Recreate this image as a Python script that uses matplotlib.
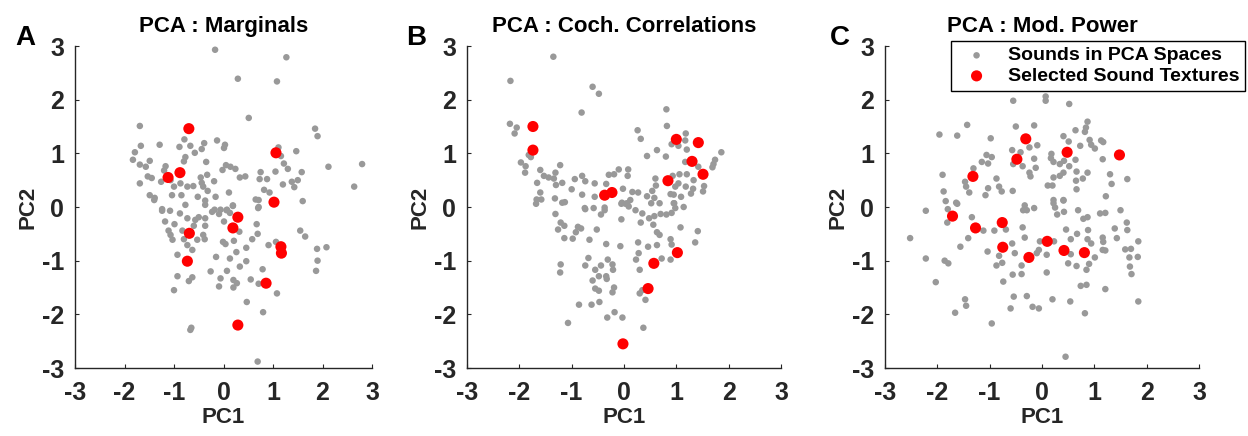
import matplotlib
matplotlib.use("Agg")
import matplotlib.pyplot as plt
import numpy as np

plt.rcParams['font.family'] = ['Liberation Sans', 'DejaVu Sans']
plt.rcParams['font.weight'] = 'bold'
plt.rcParams['axes.unicode_minus'] = False

# ---- data (PC1, PC2) ----
marg_sounds = [
    (-0.17, 2.93), (1.27, 2.79), (0.29, 2.39), (1.08, 2.34), (0.51, 1.66), (-1.69, 1.51),
    (1.85, 1.46), (1.90, 1.32), (-0.79, 1.26), (-1.67, 1.14), (-1.29, 1.16), (-0.89, 1.12),
    (-0.67, 1.14), (-0.39, 1.19), (-0.13, 1.24), (0.03, 1.16), (0.01, 1.10), (-0.58, 1.01),
    (-0.44, 1.08), (-1.79, 1.02), (1.11, 1.11), (1.16, 0.95), (1.47, 1.04), (-1.83, 0.88),
    (-1.49, 0.86), (-1.69, 0.79), (-1.57, 0.75), (-0.77, 0.93), (-0.80, 0.85), (-0.35, 0.84),
    (-1.17, 0.76), (-1.20, 0.68), (1.22, 0.81), (1.30, 0.71), (0.05, 0.78), (0.14, 0.75),
    (0.24, 0.71), (-0.02, 0.69), (1.58, 0.65), (2.12, 0.75), (2.80, 0.80), (0.75, 0.65),
    (1.05, 0.66), (-1.53, 0.57), (-1.45, 0.54), (-1.69, 0.44), (-1.26, 0.47), (-1.07, 0.50),
    (-1.00, 0.38), (-0.87, 0.44), (-0.73, 0.38), (-0.61, 0.39), (-0.46, 0.55), (-0.33, 0.60),
    (-0.44, 0.45), (-0.41, 0.38), (-0.32, 0.30), (-0.19, 0.48), (0.33, 0.55), (0.44, 0.57),
    (0.73, 0.52), (0.88, 0.52), (0.82, 0.32), (1.20, 0.42), (1.38, 0.47), (1.50, 0.50),
    (1.43, 0.37), (0.93, 0.27), (2.64, 0.38), (-1.49, 0.22), (-1.39, 0.17), (-1.04, 0.22),
    (-0.85, 0.22), (-0.52, 0.19), (-0.16, 0.19), (0.11, 0.27), (-0.37, 0.12), (-0.77, 0.04),
    (0.65, 0.14), (0.71, 0.13), (1.60, 0.11), (0.19, 0.03), (0.71, 0.00), (-1.24, -0.04),
    (-0.18, -0.05), (-0.06, -0.05), (0.07, -0.05), (-1.40, 0.13), (-1.24, -0.07), (-1.08, -0.07),
    (-0.37, 0.04), (-0.88, -0.12), (-0.73, -0.21), (-0.57, -0.24), (-0.50, -0.19), (-0.37, -0.21),
    (-0.23, -0.09), (-0.09, -0.13), (0.06, -0.06), (0.13, -0.11), (0.19, 0.02), (0.70, -0.02),
    (-1.18, -0.27), (-0.99, -0.32), (-0.83, -0.44), (-0.60, -0.35), (-0.37, -0.35), (0.01, -0.27),
    (0.32, -0.46), (0.67, -0.32), (0.69, -0.50), (-1.11, -0.44), (-1.07, -0.52), (-1.03, -0.61),
    (-0.80, -0.60), (-0.53, -0.61), (-0.38, -0.60), (-0.41, -0.52), (-0.01, -0.65), (0.04, -0.69),
    (0.21, -0.63), (0.58, -0.60), (0.91, -0.71), (1.06, -0.65), (1.55, -0.44), (1.65, -0.55),
    (-0.73, -0.71), (-0.63, -0.80), (0.46, -0.76), (0.26, -0.84), (1.89, -0.78), (2.08, -0.75),
    (-0.93, -0.89), (-0.15, -0.93), (0.13, -0.96), (0.46, -1.01), (1.90, -1.00), (0.33, -1.11),
    (0.79, -1.16), (-0.26, -1.20), (0.07, -1.19), (1.87, -1.19), (-0.93, -1.29), (-0.63, -1.31),
    (-0.70, -1.38), (-0.06, -1.33), (0.20, -1.36), (0.27, -1.42), (0.20, -1.50), (0.55, -1.35),
    (0.71, -1.43), (-0.09, -1.48), (-1.00, -1.55), (1.08, -1.61), (0.47, -1.77), (0.80, -1.96),
    (-0.65, -2.25), (-0.67, -2.29), (0.69, -2.88),
]
marg_selected = [
    (-0.70, 1.46), (1.06, 1.01), (-0.88, 0.64), (-1.12, 0.55), (1.02, 0.09), (0.29, -0.19),
    (0.19, -0.39), (-0.69, -0.49), (1.16, -0.74), (1.17, -0.86), (-0.73, -1.01), (0.86, -1.42),
    (0.29, -2.20),
]

corr_sounds = [
    (-1.35, 2.80), (-2.17, 2.35), (-0.60, 2.24), (-0.48, 2.11), (-0.81, 1.76), (0.81, 1.82),
    (0.82, 1.51), (-2.18, 1.55), (-2.05, 1.48), (-2.09, 1.37), (0.26, 1.43), (0.32, 1.27),
    (1.18, 1.37), (1.17, 1.24), (0.91, 1.17), (1.04, 1.14), (1.20, 1.07), (0.63, 1.06),
    (0.44, 0.95), (0.80, 0.94), (1.86, 1.02), (-1.82, 0.97), (-1.78, 0.93), (1.74, 0.88),
    (1.71, 0.80), (1.69, 0.74), (1.17, 0.84), (1.42, 0.75), (-1.97, 0.83), (-1.88, 0.76),
    (-1.89, 0.64), (-1.60, 0.69), (-1.22, 0.78), (-1.31, 0.64), (-1.53, 0.58), (-1.44, 0.55),
    (-1.34, 0.53), (-1.66, 0.45), (-1.30, 0.41), (-1.18, 0.45), (-0.94, 0.52), (-0.80, 0.58),
    (-0.74, 0.48), (-0.56, 0.44), (-1.00, 0.33), (-0.29, 0.60), (-0.19, 0.61), (-0.10, 0.70),
    (0.08, 0.70), (0.07, 0.58), (-0.34, 0.43), (0.60, 0.53), (0.61, 0.40), (0.93, 0.58),
    (1.06, 0.61), (1.20, 0.61), (1.33, 0.50), (1.04, 0.44), (1.18, 0.38), (1.53, 0.39),
    (1.51, 0.29), (1.32, 0.34), (1.28, 0.25), (0.98, 0.38), (-1.60, 0.27), (-1.67, 0.14),
    (-1.68, 0.06), (-1.58, 0.14), (-1.32, 0.16), (-1.18, 0.08), (-1.13, 0.09), (-0.80, 0.23),
    (-0.56, 0.19), (-0.02, 0.34), (0.16, 0.28), (0.27, 0.27), (0.44, 0.20), (0.54, 0.30),
    (0.58, 0.17), (0.68, 0.07), (0.89, 0.24), (0.95, 0.23), (1.09, 0.19), (0.95, 0.07),
    (-0.04, 0.08), (0.06, 0.07), (0.12, 0.13), (-0.75, -0.02), (-0.58, -0.02), (-0.37, -0.01),
    (1.14, 0.00), (-1.31, -0.13), (-0.74, -0.04), (-0.44, -0.14), (-0.37, -0.06), (-0.05, 0.06),
    (0.03, 0.06), (0.09, 0.01), (0.22, -0.06), (0.35, -0.12), (0.48, -0.21), (0.58, -0.17),
    (0.70, -0.13), (0.81, -0.14), (0.91, -0.11), (0.98, -0.02), (0.96, 0.07), (0.52, 0.07),
    (-0.05, -0.23), (0.32, -0.29), (0.56, -0.33), (-1.21, -0.29), (-1.14, -0.35), (-1.26, -0.42),
    (-0.88, -0.37), (-0.82, -0.40), (-0.92, -0.47), (-0.98, -0.59), (-1.14, -0.58), (-0.52, -0.42),
    (-0.66, -0.61), (-0.34, -0.69), (-0.07, -0.73), (0.27, -0.66), (0.46, -0.74), (0.63, -0.71),
    (0.63, -0.47), (0.68, -0.52), (0.89, -0.60), (0.91, -0.70), (1.08, -0.38), (1.41, -0.45),
    (1.36, -0.66), (0.28, -0.86), (0.23, -0.98), (0.72, -0.96), (0.89, -0.98), (-0.68, -0.95),
    (-0.74, -1.09), (-0.31, -0.98), (-0.44, -1.09), (-0.22, -1.07), (-0.21, -1.17), (-0.55, -1.17),
    (-0.48, -1.29), (-0.34, -1.29), (-0.33, -1.34), (-1.21, -1.07), (-1.22, -1.22), (-0.60, -1.37),
    (0.30, -1.17), (-0.55, -1.52), (-0.48, -1.56), (-0.19, -1.50), (-0.22, -1.59), (0.30, -1.61),
    (0.35, -1.55), (0.41, -1.73), (-0.86, -1.82), (-0.62, -1.82), (-0.47, -1.77), (-0.18, -1.96),
    (-0.32, -2.06), (-0.03, -2.06), (-1.07, -2.16), (0.37, -2.25),
]
corr_selected = [
    (-1.74, 1.50), (-1.74, 1.06), (1.00, 1.26), (1.42, 1.20), (1.30, 0.85), (1.51, 0.61),
    (0.84, 0.49), (-0.37, 0.22), (-0.23, 0.27), (1.02, -0.85), (0.57, -1.05), (0.46, -1.52),
    (-0.02, -2.55),
]

mod_sounds = [
    (-0.55, 1.98), (0.07, 2.06), (0.07, 1.98), (0.52, 1.92), (-1.43, 1.53), (-1.96, 1.35),
    (-1.62, 1.33), (-0.50, 1.50), (-0.15, 1.52), (0.87, 1.59), (0.84, 1.48), (0.82, 1.40),
    (0.64, 1.43), (0.41, 1.32), (0.51, 1.22), (-0.98, 1.28), (0.91, 1.25), (1.13, 1.24),
    (1.17, 1.21), (-0.09, 1.15), (-0.24, 1.11), (0.73, 1.14), (1.01, 1.09), (0.94, 1.16),
    (-0.57, 1.06), (-0.41, 1.02), (0.18, 0.99), (0.17, 0.91), (0.22, 0.84), (0.34, 0.80),
    (0.42, 0.86), (0.52, 0.76), (0.64, 0.88), (1.16, 0.89), (-1.06, 0.97), (-0.96, 0.93),
    (-1.15, 0.84), (-1.03, 0.81), (-0.15, 0.90), (-0.37, 0.76), (-0.12, 0.73), (-0.55, 0.80),
    (-1.31, 0.72), (-1.90, 0.60), (-0.24, 0.64), (-0.22, 0.57), (0.22, 0.55), (0.34, 0.58),
    (0.41, 0.64), (0.66, 0.66), (0.87, 0.64), (1.30, 0.61), (1.63, 0.52), (1.33, 0.43),
    (0.78, 0.53), (0.65, 0.49), (0.66, 0.33), (-0.87, 0.53), (-0.82, 0.38), (-0.77, 0.29),
    (-1.03, 0.35), (-1.08, 0.22), (-1.47, 0.47), (-1.45, 0.38), (-1.39, 0.27), (-1.88, 0.29),
    (-1.84, 0.11), (-1.64, 0.08), (-0.56, 0.30), (0.11, 0.40), (0.20, 0.40), (1.22, 0.20),
    (0.22, 0.13), (0.41, 0.13), (-0.33, 0.03), (-2.52, -0.58), (-2.22, -0.07), (-1.80, -0.04),
    (-1.81, -0.29), (-1.62, 0.06), (-1.34, -0.19), (-1.12, -0.44), (-0.91, -0.44), (-0.69, -0.42),
    (-1.41, -0.58), (-1.56, -0.74), (-1.04, -0.83), (-0.82, -0.91), (-0.87, -1.09), (-0.76, -1.04),
    (-0.74, -1.39), (-0.57, -0.68), (-0.52, -0.86), (-0.56, -1.26), (-0.39, -1.25), (-0.39, -1.09),
    (-0.37, -0.38), (-0.33, -0.57), (-0.36, -0.06), (-0.29, -0.06), (-0.15, -0.02), (-0.06, -0.80),
    (-0.04, -0.64), (-0.10, -0.86), (0.09, -0.89), (0.09, -1.22), (0.23, -0.64), (0.22, 0.07),
    (0.25, -0.01), (0.29, -0.14), (0.42, -0.09), (0.41, 0.12), (0.46, -0.42), (0.55, -0.60),
    (0.55, -0.88), (0.50, -1.05), (0.66, -1.10), (0.67, -0.50), (0.69, -0.06), (0.79, -0.22),
    (0.87, -0.19), (0.88, -0.43), (0.87, -0.60), (0.94, -0.68), (0.85, -1.17), (0.90, -1.06),
    (1.01, -0.94), (1.11, -0.12), (1.21, -0.11), (1.16, -0.57), (1.17, -0.65), (1.16, -0.80),
    (1.21, -0.81), (1.39, -0.40), (1.43, -0.58), (1.50, -0.06), (1.62, -0.29), (1.63, -0.43),
    (1.59, -0.79), (1.67, -0.94), (1.70, -0.78), (1.68, -1.11), (1.71, -1.25), (1.84, -0.64),
    (1.83, -0.93), (1.84, -1.76), (1.21, -1.53), (0.85, -1.45), (0.74, -1.47), (0.54, -1.76),
    (0.20, -1.72), (-0.29, -1.66), (-0.54, -1.67), (-0.18, -1.86), (-0.06, -1.89), (-0.60, -1.89),
    (0.82, -1.98), (-1.47, -1.72), (-1.45, -1.84), (-1.66, -1.97), (-2.03, -1.40), (-2.22, -0.96),
    (-1.86, -1.00), (-1.79, -1.05), (-0.96, -2.17), (0.45, -2.79),
]
mod_selected = [
    (-1.32, 0.57), (-0.31, 1.27), (-0.48, 0.89), (0.48, 1.02), (1.48, 0.97), (-1.71, -0.17),
    (-1.27, -0.39), (-0.76, -0.29), (-0.75, -0.75), (-0.25, -0.94), (0.10, -0.64), (0.42, -0.81),
    (0.81, -0.85),
]

titles = ['PCA : Marginals', 'PCA : Coch. Correlations', 'PCA : Mod. Power']
letters = ['A', 'B', 'C']
ticks = [-3, -2, -1, 0, 1, 2, 3]

W, H = 1248, 436
fig = plt.figure(figsize=(W / 100, H / 100), dpi=100)

# axes boxes in pixels: left, right, top, bottom
boxes = [(75, 372, 46, 368), (467, 781, 46, 368), (885, 1199, 46, 368)]
letter_x = [25, 416, 840]

panels = [(marg_sounds, marg_selected), (corr_sounds, corr_selected), (mod_sounds, mod_selected)]
for i, ((snd, sel), (l, r, t, b)) in enumerate(zip(panels, boxes)):
    ax = fig.add_axes([l / W, 1 - b / H, (r - l) / W, (b - t) / H])
    snd = np.array(snd)
    sel = np.array(sel)
    ax.scatter(snd[:, 0], snd[:, 1], s=22, color='#999999', edgecolors='none',
               label='Sounds in PCA Spaces')
    ax.scatter(sel[:, 0], sel[:, 1], s=64, color='#ff0000', edgecolors='none',
               label='Selected Sound Textures')
    ax.set_xlim(-3, 3)
    ax.set_ylim(-3, 3)
    ax.set_xticks(ticks)
    ax.set_yticks(ticks)
    for s in ['top', 'right']:
        ax.spines[s].set_visible(False)
    for s in ['left', 'bottom']:
        ax.spines[s].set_color('#262626')
        ax.spines[s].set_linewidth(1.0)
    ax.tick_params(direction='in', length=3, width=0.8, color='#262626',
                   labelsize=18, labelcolor='#262626')
    ax.tick_params(axis='x', pad=9)
    ax.tick_params(axis='y', pad=8)
    for lab in ax.get_xticklabels() + ax.get_yticklabels():
        lab.set_fontweight('bold')
    ax.set_xlabel('PC1', fontsize=16, fontweight='bold', color='#262626', labelpad=2)
    ax.set_ylabel('PC2', fontsize=16, fontweight='bold', color='#262626', labelpad=2)
    ax.set_title(titles[i], fontsize=16, fontweight='bold', pad=10)
    fig.text(letter_x[i] / W, 1 - 38 / H, letters[i], fontsize=20, fontweight='bold',
             ha='center', va='center')
    if i == 2:
        leg = ax.legend(loc='upper right', bbox_to_anchor=(1245 / W, 1 - 41 / H),
                        bbox_transform=fig.transFigure, borderaxespad=0,
                        fancybox=False, framealpha=1, edgecolor='black',
                        prop={'size': 14, 'weight': 'bold'}, scatterpoints=1,
                        handletextpad=0.6, labelspacing=0.15, borderpad=0.3)
        leg.get_frame().set_linewidth(1.0)

fig.savefig('out.png', dpi=100)
